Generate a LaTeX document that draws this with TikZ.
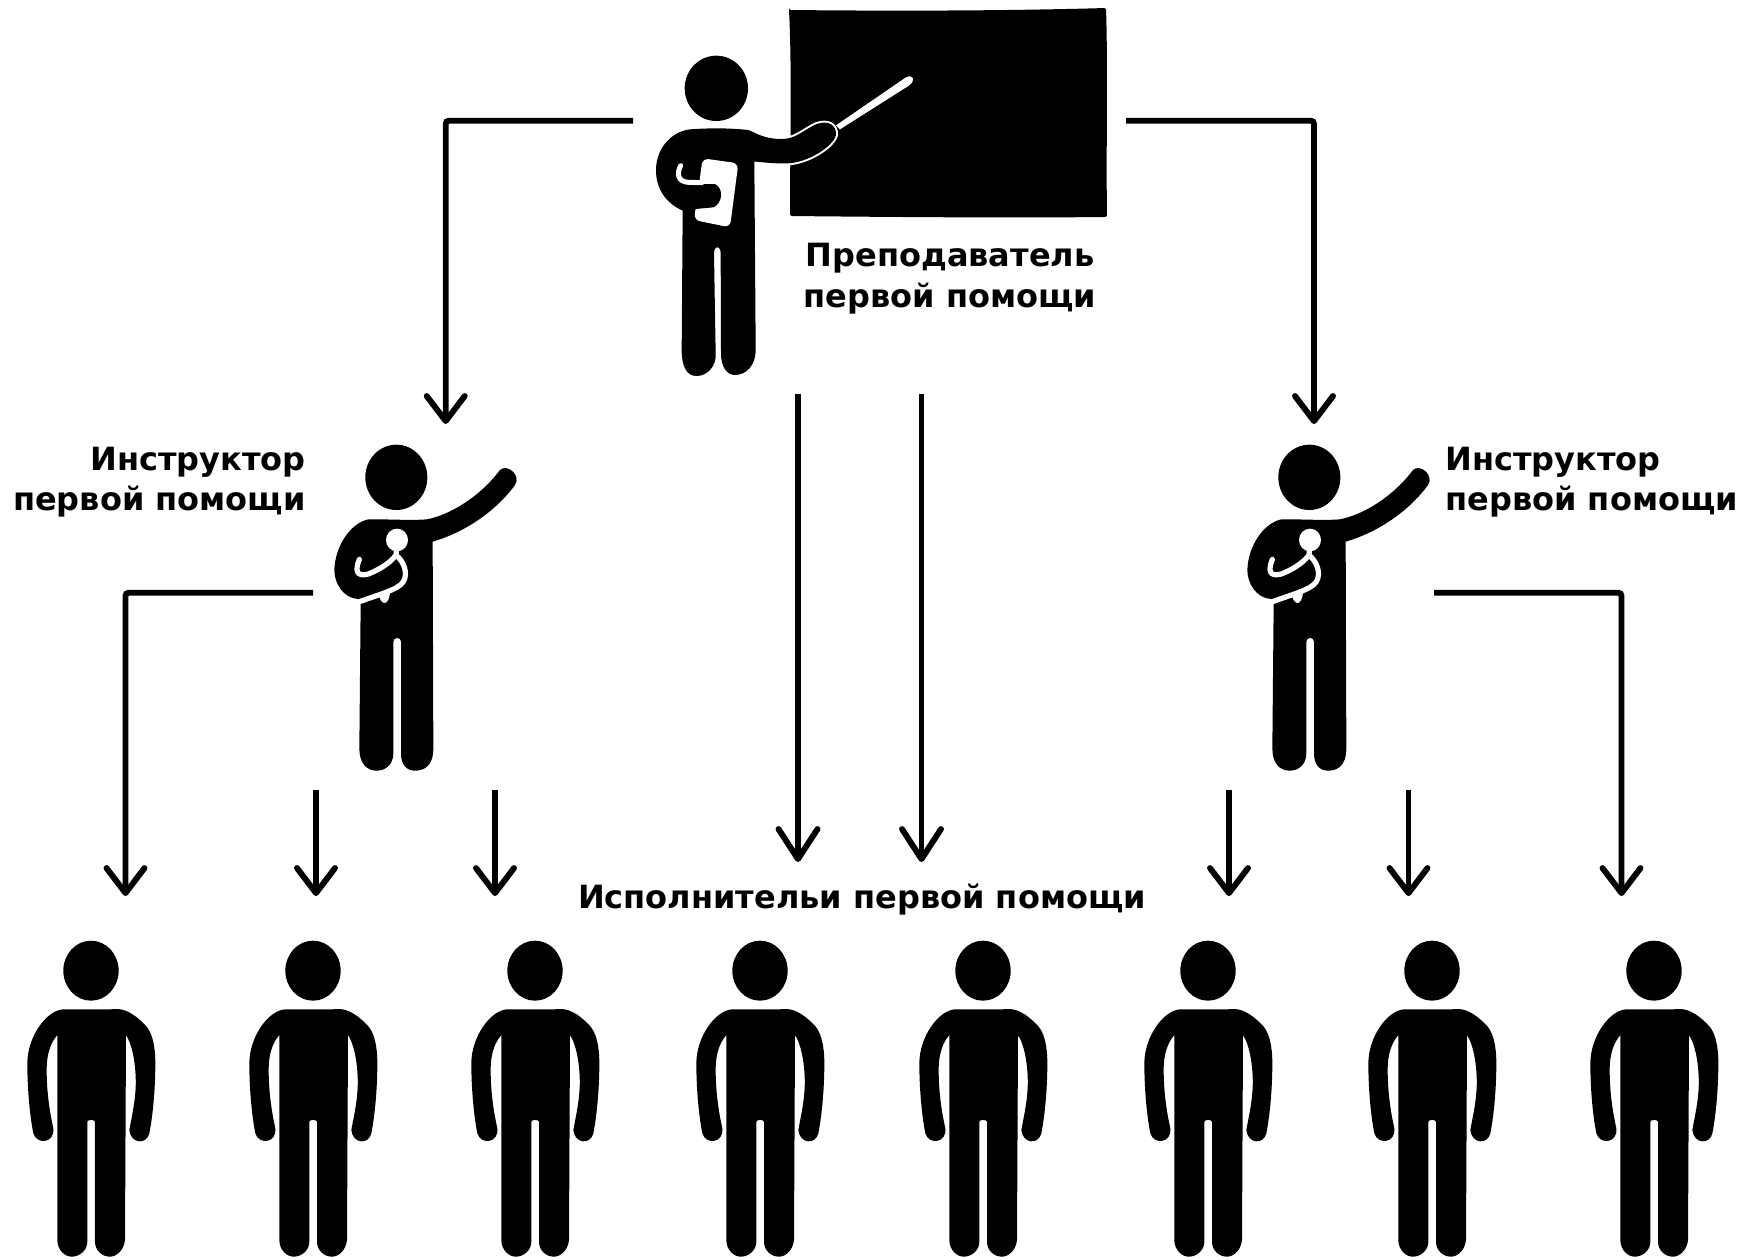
\documentclass[tikz,border=0pt]{standalone}
\usepackage{fontspec}
\setmainfont{DejaVu Sans}
\usetikzlibrary{arrows.meta}
\tikzset{
  x=0.5pt,y=-0.5pt,
  conn/.style={line width=2.95pt,rounded corners=1.6pt,-{Straight Barb[length=12.5pt,width=19pt,round,line width=2.95pt]}},
  connmid/.style={line width=2.95pt,-{Straight Barb[length=15pt,width=19.5pt,round,line width=2.95pt]}},
  lbl/.style={font=\fontsize{16}{20.2}\selectfont\bfseries,inner sep=0pt},
  gap/.style={draw=white,line cap=round,line join=round},
}
% standing person (outline in 1/3 px units; head centre at 273,152)
\newcommand{\personfig}[1]{%
 \begin{scope}[shift={(#1-91,920)},scale=1/3]
  \fill (273,152) ellipse [x radius=83,y radius=90];
  \fill (190,268) .. controls (240,267) and (300,270) .. (350,267)
   .. controls (385,266) and (420,298) .. (440,320)
   .. controls (456,340) and (466,375) .. (466,430)
   .. controls (466,510) and (458,590) .. (448,640)
   .. controls (440,675) and (392,672) .. (388,630)
   .. controls (395,590) and (410,530) .. (407,470)
   .. controls (405,420) and (395,370) .. (378,345)
   -- (375,960) .. controls (372,990) and (350,1010) .. (330,1010)
   .. controls (305,1010) and (285,990) .. (285,965)
   -- (285,605) .. controls (285,598) and (262,598) .. (262,605)
   -- (262,965) .. controls (262,990) and (240,1010) .. (215,1010)
   .. controls (195,1010) and (172,990) .. (172,960)
   -- (172,345) .. controls (155,365) and (140,395) .. (140,450)
   .. controls (140,520) and (150,580) .. (160,625)
   .. controls (165,670) and (110,675) .. (100,640)
   .. controls (90,590) and (82,510) .. (82,430)
   .. controls (82,350) and (140,270) .. (190,268) -- cycle;
 \end{scope}}
% instructor (outline in 1/3 px units of a 300,420 crop)
\newcommand{\trainerfig}[1]{%
 \begin{scope}[shift={(#1,420)},scale=1/3]
  \fill (289,172) ellipse [x radius=93,y radius=98];
  \fill (205,298) .. controls (260,297) and (330,302) .. (380,298)
   .. controls (450,285) and (540,230) .. (600,150)
   .. controls (620,130) and (665,165) .. (645,195)
   .. controls (590,270) and (500,335) .. (398,365)
   -- (400,985) .. controls (400,1040) and (370,1052) .. (345,1052)
   .. controls (320,1052) and (303,1035) .. (303,1000)
   -- (303,665) .. controls (303,650) and (280,650) .. (280,665)
   -- (280,1000) .. controls (280,1035) and (255,1052) .. (230,1052)
   .. controls (200,1052) and (178,1030) .. (178,985)
   -- (182,550) -- (175,537)
   .. controls (130,535) and (103,490) .. (103,450)
   .. controls (105,380) and (150,310) .. (205,298) -- cycle;
  \fill[white] (291,360) ellipse [x radius=33,y radius=34];
  \draw[gap,line width=2.6pt] (178,418) .. controls (165,450) and (168,472) .. (205,462)
     .. controls (235,450) and (270,430) .. (288,405)
     -- (290,380) -- (288,405)
     .. controls (312,425) and (325,460) .. (310,485)
     .. controls (295,510) and (230,525) .. (165,550);
  \fill[white] (238,530) .. controls (245,556) and (266,558) .. (270,518) -- cycle;
 \end{scope}}
\begin{document}
\begin{tikzpicture}
\useasboundingbox (0,0) rectangle (1739,1259);
% blackboard
\fill[rounded corners=1pt] (789,10) .. controls (890,11) and (1000,11) .. (1106,8)
  .. controls (1108,70) and (1106,150) .. (1107,217)
  .. controls (1000,218) and (890,217) .. (790,216)
  .. controls (790,150) and (792,70) .. (789,10) -- cycle;
% teacher
\begin{scope}[shift={(620,0)},scale=1/3]
  \fill (289,265) ellipse [x radius=95,y radius=98];
  \fill[white] (648,376) -- (858,232) .. controls (880,222) and (888,240) .. (868,256) -- (660,388) -- cycle;
  \fill[preaction={draw=white,line width=2pt}]
   (210,388) .. controls (280,383) and (340,385) .. (385,390)
   .. controls (420,405) and (440,420) .. (500,416)
   .. controls (530,412) and (560,385) .. (590,372)
   .. controls (625,360) and (650,375) .. (648,405)
   .. controls (640,440) and (560,490) .. (500,490)
   .. controls (460,492) and (420,485) .. (403,485)
   -- (407,1040) .. controls (410,1100) and (375,1125) .. (345,1125)
   .. controls (320,1125) and (303,1100) .. (303,1060)
   -- (302,760) .. controls (302,735) and (282,735) .. (282,760)
   -- (287,1060) .. controls (290,1100) and (260,1128) .. (230,1128)
   .. controls (200,1128) and (185,1100) .. (185,1050)
   -- (188,632)
   .. controls (140,610) and (108,570) .. (108,510)
   .. controls (108,450) and (150,395) .. (210,388) -- cycle;
  \fill[white,rounded corners=3pt] (248,475) -- (355,490) -- (330,682) -- (222,660) -- cycle;
  \fill (235,552) -- (285,552) .. controls (312,565) and (308,610) .. (280,622) -- (215,628) -- (205,552) -- cycle;
  \draw[gap,line width=2.5pt] (182,497) .. controls (170,520) and (172,545) .. (205,547) -- (245,548);
\end{scope}
% instructors
\trainerfig{300}
\trainerfig{1213}
% performers
\personfig{91}
\personfig{313}
\personfig{535}
\personfig{760}
\personfig{983}
\personfig{1208}
\personfig{1432}
\personfig{1654}
% texts
\node[lbl,align=center,anchor=center] (teacher) at (950,278.5) {Преподаватель\\первой помощи};
\node[lbl,align=right,anchor=east] (instrL) at (306,482) {Инструктор\\первой помощи};
\node[lbl,align=left,anchor=west] (instrR) at (1445,482) {Инструктор\\первой помощи};
\node[lbl,anchor=center] (perf) at (862,899.5) {Исполнительи первой помощи};
% connector ends
\coordinate (tL) at (633,120.7);  \coordinate (tLc) at (445.7,120.7); \coordinate (tLe) at (445.7,424);
\coordinate (tR) at (1126,120.7); \coordinate (tRc) at (1314,120.7);  \coordinate (tRe) at (1314,424);
\coordinate (m1) at (798,394);    \coordinate (m1e) at (798,862);
\coordinate (m2) at (921.5,394);  \coordinate (m2e) at (921.5,862);
\coordinate (iL) at (313,592.7);  \coordinate (iLc) at (125.5,592.7); \coordinate (iLe) at (125.5,896);
\coordinate (iR) at (1434,592.7); \coordinate (iRc) at (1621.5,592.7);\coordinate (iRe) at (1621.5,896);
\coordinate (a1) at (316,790);    \coordinate (a1e) at (316,896);
\coordinate (a2) at (495,790);    \coordinate (a2e) at (495,896);
\coordinate (a3) at (1229,790);   \coordinate (a3e) at (1229,896);
\coordinate (a4) at (1408.5,790); \coordinate (a4e) at (1408.5,896);
% connectors
\draw[conn] (tL) -- (tLc) -- (tLe);
\draw[conn] (tR) -- (tRc) -- (tRe);
\draw[connmid] (m1) -- (m1e);
\draw[connmid] (m2) -- (m2e);
\draw[conn] (iL) -- (iLc) -- (iLe);
\draw[conn] (iR) -- (iRc) -- (iRe);
\draw[conn] (a1) -- (a1e);
\draw[conn] (a2) -- (a2e);
\draw[conn] (a3) -- (a3e);
\draw[conn] (a4) -- (a4e);
\end{tikzpicture}
\end{document}
